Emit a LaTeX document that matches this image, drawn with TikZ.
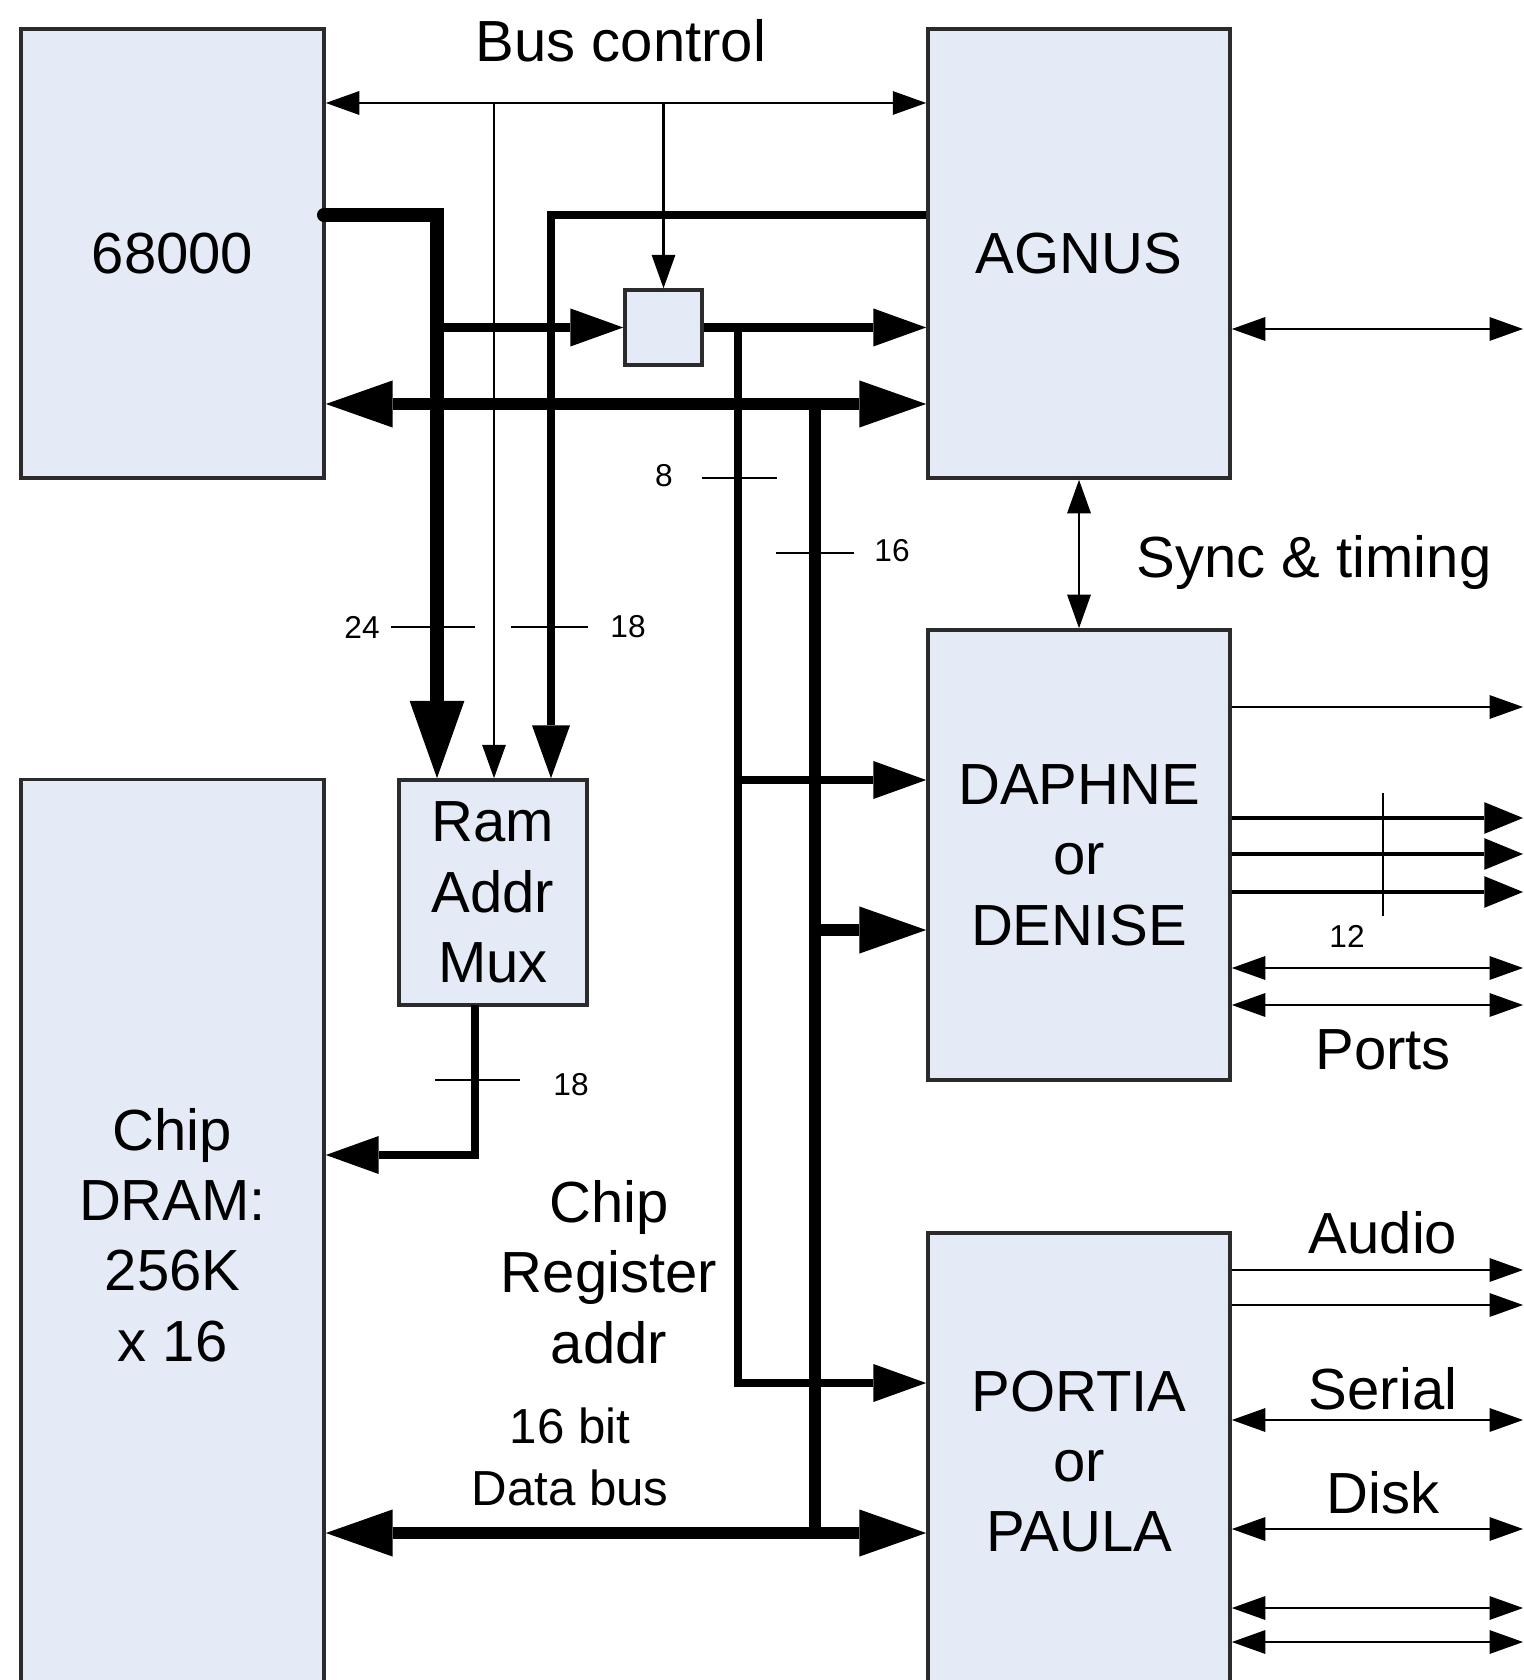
\documentclass[tikz,border=0pt]{standalone}
\usepackage{fontspec}
\setmainfont{Liberation Sans}
\usetikzlibrary{arrows.meta,positioning,calc}
\definecolor{amInk}{HTML}{000000}
\definecolor{amEdge}{HTML}{2B2B2B}
\definecolor{amFill}{HTML}{E4EBF6}
\tikzset{
  % Arrow tips (small / medium / large / extra)
  tipS/.tip={Triangle[length=9.5pt,width=6.8pt,line width=0pt]},
  tipM/.tip={Triangle[length=15pt,width=10.8pt,line width=0pt]},
  tipL/.tip={Triangle[length=19pt,width=13.4pt,line width=0pt]},
  tipX/.tip={Triangle[length=22pt,width=15.6pt,line width=0pt]},
  tipR/.tip={Triangle[length=11pt,width=9pt,line width=0pt]},
  % Chip box
  chip/.style={rectangle,draw=amEdge,line width=1pt,fill=amFill,
    align=center,inner sep=0pt,text=amInk,
    font=\fontsize{16.5}{20}\selectfont},
  % Thin control line
  sig/.style={line width=0.7pt,color=amInk},
  sigarr/.style={sig,-tipS},
  sigboth/.style={sig,tipS-tipS},
  % Medium bus
  mbus/.style={line width=2.3pt,color=amInk,-tipM},
  % 24 bit address bus
  abus/.style={line width=3.9pt,color=amInk},
  % 16 bit data bus
  dbus/.style={line width=3.4pt,color=amInk},
  % RGB outputs
  rgb/.style={line width=1.4pt,color=amInk,-tipR},
  % Bus width tick
  tick/.style={line width=0.7pt,color=amInk},
  % Labels
  lbl/.style={align=center,inner sep=0pt,font=\fontsize{16.5}{20}\selectfont},
  blbl/.style={align=center,inner sep=0pt,font=\fontsize{14}{17.7}\selectfont},
  wlbl/.style={inner sep=0pt,font=\fontsize{9}{11}\selectfont},
}

\begin{document}
\begin{tikzpicture}[x=0.01cm,y=-0.01cm]
  \useasboundingbox (0,0) rectangle (1523,1680);
  \clip (0,0) rectangle (1523,1680);

  % Chips
  \node[chip,minimum width=3.03cm,minimum height=4.49cm] (cpu) at (172.5,253.5) {68000};
  \node[chip,minimum width=3.02cm,minimum height=4.49cm] (agnus) at (1079,253.5) {AGNUS};
  \node[chip,minimum width=3.02cm,minimum height=4.50cm] (daphne) at (1079,855)
    {DAPHNE\\or\\DENISE};
  \node[chip,minimum width=3.02cm,minimum height=4.57cm] (portia) at (1079,1461.5)
    {PORTIA\\or\\PAULA};
  \node[chip,minimum width=3.03cm,minimum height=9.10cm] (dram) at (172.5,1235)
    {Chip\\DRAM:\\256K\\x 16};
  \node[chip,minimum width=1.88cm,minimum height=2.25cm] (mux) at (493,892.5)
    {Ram\\Addr\\Mux};
  \node[chip,minimum width=0.77cm,minimum height=0.75cm] (latch) at (663.5,327.5) {};

  % Bends and junctions
  \coordinate (bcA) at (494,103);
  \coordinate (bcB) at (663.5,103);
  \coordinate (cpuA) at (324,215);
  \coordinate (cpuAk) at (437,215);
  \coordinate (agA) at (551,215);
  \coordinate (latchIn) at (437,327.5);
  \coordinate (regT) at (738,327.5);
  \coordinate (regD) at (738,780);
  \coordinate (regB) at (738,1383);
  \coordinate (dbT) at (815,404);
  \coordinate (dbD) at (815,930);
  \coordinate (dbB) at (815,1533);
  \coordinate (muxO) at (475,1005);
  \coordinate (muxL) at (475,1155);
  \foreach \n/\y in {ag/329,vid/707,r/818,g/854,b/892,p1/968,p2/1005,
    au1/1270,au2/1305,ser/1420,dsk/1529,x1/1608,x2/1642}
    \coordinate (o\n) at (1523,\y);

  % Bus control
  \draw[sigboth] (cpu.east |- bcA) -- (agnus.west |- bcA);
  \draw[sigarr] (bcA) -- (bcA |- mux.north);
  \draw[sigarr] (bcB) -- (latch.north);

  % Address lines
  \draw[abus,-tipX] (cpuA) -| (cpuAk |- mux.north);
  \fill[amInk] (cpuA) circle (2pt);
  \draw[mbus] (latchIn) -- (latch.west);
  \draw[mbus] (agnus.west |- agA) -| (agA |- mux.north);
  \draw[mbus] (latch.east) -- (agnus.west |- latch.east);
  \draw[mbus] (regT) -- (regB) -- (portia.west |- regB);
  \draw[mbus] (regD) -- (daphne.west |- regD);
  \draw[mbus] (muxO) -- (muxL) -- (dram.east |- muxL);

  % Data bus
  \draw[dbus,tipL-tipL] (cpu.east |- dbT) -- (agnus.west |- dbT);
  \draw[dbus] (dbT) -- (dbB);
  \draw[dbus,-tipL] (dbD) -- (daphne.west |- dbD);
  \draw[dbus,tipL-tipL] (dram.east |- dbB) -- (portia.west |- dbB);

  % Bus widths
  \draw[tick] (702,478) -- (777,478);
  \draw[tick] (776,553) -- (854,553);
  \draw[tick] (391,627) -- (475,627);
  \draw[tick] (511,627) -- (588,627);
  \draw[tick] (435,1080) -- (520,1080);
  \draw[tick] (1383,793) -- (1383,916);
  \node[wlbl] (w8) at (664,476) {8};
  \node[wlbl] (w16) at (892,551) {16};
  \node[wlbl] (w24) at (362,627) {24};
  \node[wlbl] (w18a) at (628,627) {18};
  \node[wlbl] (w18b) at (571,1085) {18};
  \node[wlbl] (w12) at (1347,936) {12};

  % Sync and outputs
  \draw[sigboth] (agnus.south) -- (daphne.north);
  \draw[sigboth] (agnus.east |- oag) -- (oag);
  \draw[sigarr] (daphne.east |- ovid) -- (ovid);
  \foreach \n in {r,g,b} \draw[rgb] (daphne.east |- o\n) -- (o\n);
  \foreach \n in {p1,p2} \draw[sigboth] (daphne.east |- o\n) -- (o\n);
  \foreach \n in {au1,au2} \draw[sigarr] (portia.east |- o\n) -- (o\n);
  \foreach \n in {ser,dsk,x1,x2} \draw[sigboth] (portia.east |- o\n) -- (o\n);

  % Labels
  \node[lbl] (busctl) at (621,41) {Bus control};
  \node[lbl] (sync) at (1314,563) {Sync \& timing};
  \node[lbl] (ports) at (1383,1050) {Ports};
  \node[lbl] (audio) at (1383,1233) {Audio};
  \node[lbl] (serial) at (1383,1389) {Serial};
  \node[lbl] (disk) at (1383,1493) {Disk};
  \node[lbl] (regaddr) at (609,1272) {Chip\\Register\\addr};
  \node[blbl] (dbtxt) at (570,1457) {16 bit\\Data bus};
\end{tikzpicture}
\end{document}
